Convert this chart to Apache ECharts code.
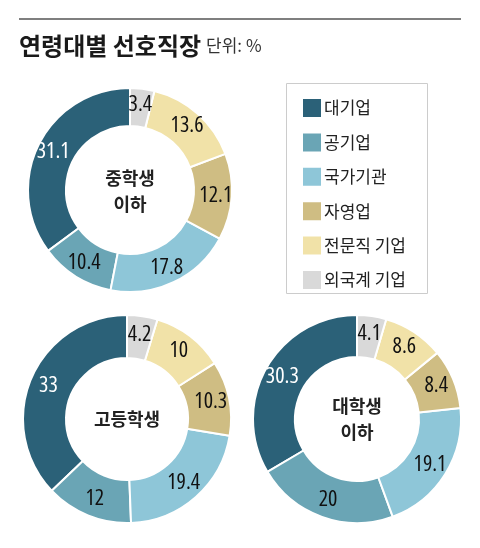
<!DOCTYPE html>
<html>
<head>
<meta charset="utf-8">
<script src="https://cdn.jsdelivr.net/npm/echarts@6/dist/echarts.min.js"></script>
<style>
html, body { margin: 0; padding: 0; background: #fff; }
#chart { width: 480px; height: 548px; }
</style>
</head>
<body>
<div id="chart"></div>
<script>
var categories = ['대기업', '공기업', '국가기관', '자영업', '전문직 기업', '외국계 기업'];
var colors = ['#2b6178', '#6aa5b5', '#8ec6d8', '#cfbd83', '#f1e2a8', '#d9d9d9'];
var middleSchool = [31.1, 10.4, 17.8, 12.1, 13.6, 3.4];
var highSchool = [33, 12, 19.4, 10.3, 10, 4.2];
var university = [30.3, 20, 19.1, 8.4, 8.6, 4.1];
var groupNames = ['중학생\n이하', '고등학생', '대학생\n이하'];

var krFont = '"Noto Sans CJK KR", sans-serif';
var numFont = '"Open Sans", sans-serif';

function makePie(name, values, cx, cy, r0, r1) {
	return {
		type : 'pie',
		name : name,
		center : [ cx, cy ],
		radius : [ r0, r1 ],
		startAngle : 90,
		clockwise : false,
		silent : true,
		itemStyle : {
			borderColor : '#fff',
			borderWidth : 2
		},
		label : {
			show : true,
			position : 'inside',
			formatter : '{c}',
			fontFamily : numFont,
			fontStyle : 'condensed', // 좁은 숫자 글꼴 흉내
			fontWeight : 500,
			fontSize : 22,
			color : '#111'
		},
		labelLine : { show : false },
		data : values.map(function(v, i) {
			var d = { name : categories[i], value : v };
			if (i == 0) d.label = { color : '#fff' };
			return d;
		})
	};
}

function centerText(text, x, y) {
	return {
		type : 'text',
		x : x,
		y : y,
		style : {
			text : text,
			align : 'center',
			verticalAlign : 'middle',
			font : 'bold 18px ' + krFont,
			fill : '#222',
			lineHeight : 26
		}
	};
}

var myChart = echarts.init(document.getElementById('chart'));
var option = {
	color : colors,
	animation : false,
	title : {
		left : 14,
		top : 29,
		text : '{a|연령대별 선호직장} {b|단위: %}',
		textStyle : {
			rich : {
				a : { fontFamily : krFont, fontSize : 24, fontWeight : 'bold', color : '#1a1a1a' },
				b : { fontFamily : krFont, fontSize : 17, fontWeight : 'normal', color : '#333' }
			}
		}
	},
	legend : {
		orient : 'vertical',
		left : 301,
		top : 97,
		padding : 0,
		itemWidth : 20,
		itemHeight : 20,
		itemGap : 12.4,
		icon : 'rect',
		data : categories,
		textStyle : { fontFamily : krFont, fontSize : 17, lineHeight : 20, color : '#222', padding : [ 0, 0, 0, -3 ] }
	},
	graphic : [ {
		type : 'line',
		shape : { x1 : 19, y1 : 19, x2 : 461, y2 : 19 },
		style : { stroke : '#555', lineWidth : 1.5 }
	}, {
		type : 'rect',
		shape : { x : 286.5, y : 83.5, width : 141, height : 210 },
		style : { fill : 'none', stroke : '#ccc', lineWidth : 1 }
	},
		centerText(groupNames[0], 130, 191),
		centerText(groupNames[1], 127, 419),
		centerText(groupNames[2], 357, 419)
	],
	series : [
		makePie(groupNames[0], middleSchool, 130, 190, 64, 102),
		makePie(groupNames[1], highSchool, 127, 419, 61, 104),
		makePie(groupNames[2], university, 357, 419, 62, 104)
	]
};
myChart.setOption(option);
</script>
</body>
</html>
